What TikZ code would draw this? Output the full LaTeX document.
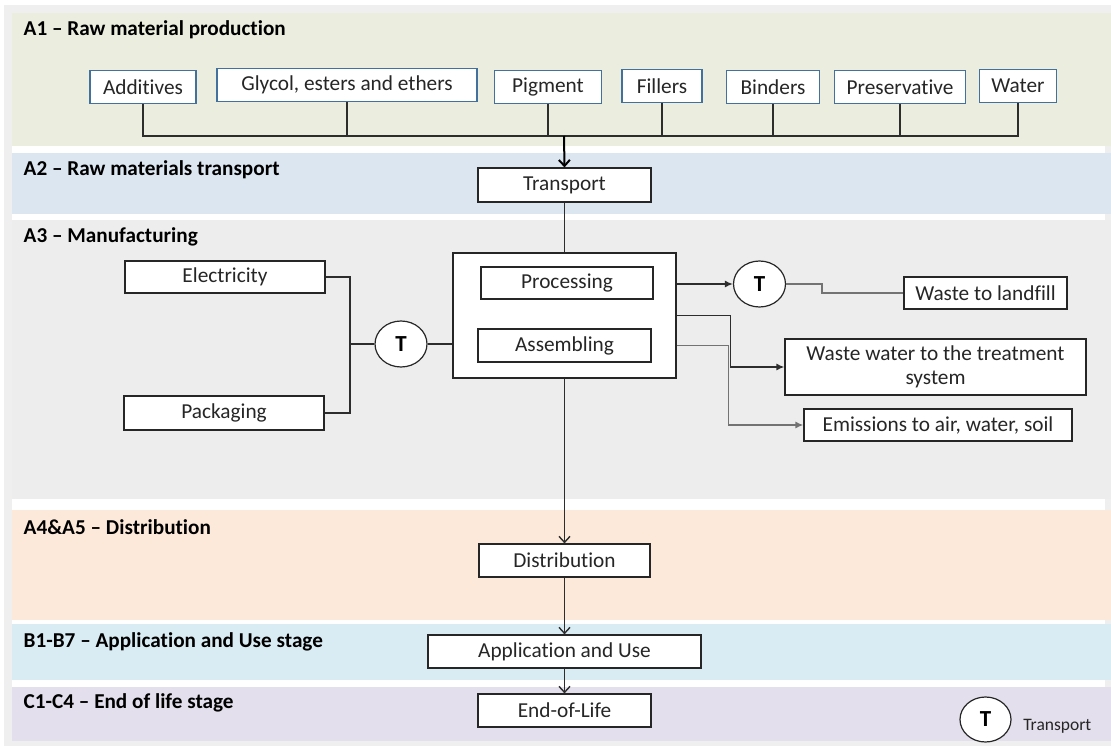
\documentclass[tikz,border=0pt]{standalone}
\usepackage{fontspec}
\setmainfont{Carlito}[Ligatures=NoCommon]
\usetikzlibrary{positioning,calc,arrows.meta,shapes.geometric}
\definecolor{frame}{RGB}{239,239,239}
\definecolor{bandraw}{RGB}{235,238,222}
\definecolor{bandtr}{RGB}{220,230,241}
\definecolor{bandman}{RGB}{237,237,237}
\definecolor{banddis}{RGB}{252,233,218}
\definecolor{banduse}{RGB}{218,236,243}
\definecolor{bandeol}{RGB}{228,223,236}
\definecolor{inblue}{RGB}{65,113,156}
\definecolor{wire}{RGB}{45,45,45}
\newcommand\boxfont{\fontsize{21.3}{23.5}\selectfont}
\newcommand\stagefont{\fontsize{21.2}{24}\selectfont\bfseries}
\newcommand\tfont{\fontsize{23}{24}\selectfont\bfseries}
\tikzset{block/.style={draw=black!85,line width=1.2pt,fill=white,text=black!85,minimum height=33pt,inner sep=2pt,align=center,font=\boxfont},
         inbox/.style={block,draw=inblue},
         tnode/.style={ellipse,draw=black!85,line width=1.2pt,fill=white,minimum width=52pt,minimum height=46pt,inner sep=0pt,font=\tfont},
         line/.style={-{Latex[length=8pt,width=7pt]}},
         flow/.style={-{Straight Barb[length=6pt,width=11pt]}},
         stage/.style={anchor=west,inner sep=0pt,font=\stagefont}
     }

\begin{document}
\begin{tikzpicture}[x=1pt,y=-1pt,line width=1.4pt,draw=wire]
\useasboundingbox (0,0) rectangle (1111,746);
% stage bands
\fill[frame] (4,5) rectangle (1111,746);
\fill[white] (12,13) rectangle (1105,741);
\fill[bandraw] (12,13) rectangle (1111,146);
\fill[bandtr] (12,153) rectangle (1111,214);
\fill[bandman] (12,220) rectangle (1111,499);
\fill[banddis] (12,510) rectangle (1111,620);
\fill[banduse] (12,624) rectangle (1111,680);
\fill[bandeol] (12,687) rectangle (1111,741);
\node[stage] (s1) at (23,30) {A1 -- Raw material production};
\node[stage] (s2) at (23,170) {A2 -- Raw materials transport};
\node[stage] (s3) at (23,237) {A3 -- Manufacturing};
\node[stage] (s4) at (23,527) {A4\&A5 -- Distribution};
\node[stage] (s5) at (23,642) {B1-B7 -- Application and Use stage};
\node[stage] (s6) at (23,703) {C1-C4 -- End of life stage};
% raw materials
\node[inbox,minimum width=106pt] (add) at (143,87) {Additives};
\node[inbox,minimum width=260pt] (gly) at (347,85) {Glycol, esters and ethers};
\node[inbox,minimum width=107pt] (pig) at (548,87) {Pigment};
\node[inbox,minimum width=80pt] (fil) at (662,86) {Fillers};
\node[inbox,minimum width=93pt] (bin) at (773,87) {Binders};
\node[inbox,minimum width=131pt] (pres) at (900,87) {Preservative};
\node[inbox,minimum width=77pt] (wat) at (1018,86) {Water};
\coordinate (bus) at (564,136);
% main chain
\node[block,minimum width=173pt,minimum height=34pt] (trans) at (564.5,185) {Transport};
\node[block,minimum width=223pt,minimum height=125pt] (main) at (564.5,315.5) {};
\node[block,minimum width=172pt,minimum height=32pt] (proc) at (567,283) {Processing};
\node[block,minimum width=173pt] (asm) at (564.5,345.5) {Assembling};
\node[block,minimum width=171pt] (dist) at (564.5,560.5) {Distribution};
\node[block,minimum width=273pt] (app) at (564.5,651.5) {Application and Use};
\node[block,minimum width=173pt] (eol) at (564.5,710.5) {End-of-Life};
% inputs and outputs of manufacturing
\node[block,minimum width=200pt,minimum height=32pt] (elec) at (225,277) {Electricity};
\node[block,minimum width=200pt,minimum height=34pt] (pack) at (224,413) {Packaging};
\coordinate (join) at (350,344);
\node[tnode] (tin) at (401,344) {T};
\node[tnode] (tout) at (759.5,284) {T};
\node[block,minimum width=163pt,minimum height=32pt] (land) at (985.5,293) {Waste to landfill};
\node[block,minimum width=301pt,minimum height=56pt] (ww) at (935.5,367) {Waste water to the treatment\\system};
\node[block,minimum width=268pt,minimum height=32pt] (emis) at (938,425) {Emissions to air, water, soil};
% legend
\node[tnode,minimum width=51pt,minimum height=45pt] (tkey) at (985.5,719.5) {T};
\node[right=11pt of tkey,yshift=-7pt,inner sep=0pt,text=black!85,font=\fontsize{17.5}{19}\selectfont] (tkeytxt) {Transport};
% connectors
\foreach \n in {add,gly,pig,fil,bin,pres,wat}
  \draw (\n.south) |- (bus);
\draw[flow,line width=2pt,draw=black] (bus) -- (trans.north);
\draw (trans.south) -- (main.north);
\draw (elec.east) -| (join);
\draw (pack.east) -| (join);
\draw (join) -- (tin.west);
\draw (tin.east) -- (tin.east -| main.west);
\draw[line] (main.east |- tout.west) -- (tout.west);
\draw[draw=black!55] (tout.east) -- ++(36,0) |- (land.west);
\draw[line] (main.east) -- ++(54,0) |- (ww.west);
\draw[line,draw=black!55] (main.east |- asm.east) -- ++(52,0) |- (emis.west);
\draw[flow] (main.south) -- (dist.north);
\draw[flow] (dist.south) -- (app.north);
\draw[flow] (app.south) -- (eol.north);
\end{tikzpicture}
\end{document}
